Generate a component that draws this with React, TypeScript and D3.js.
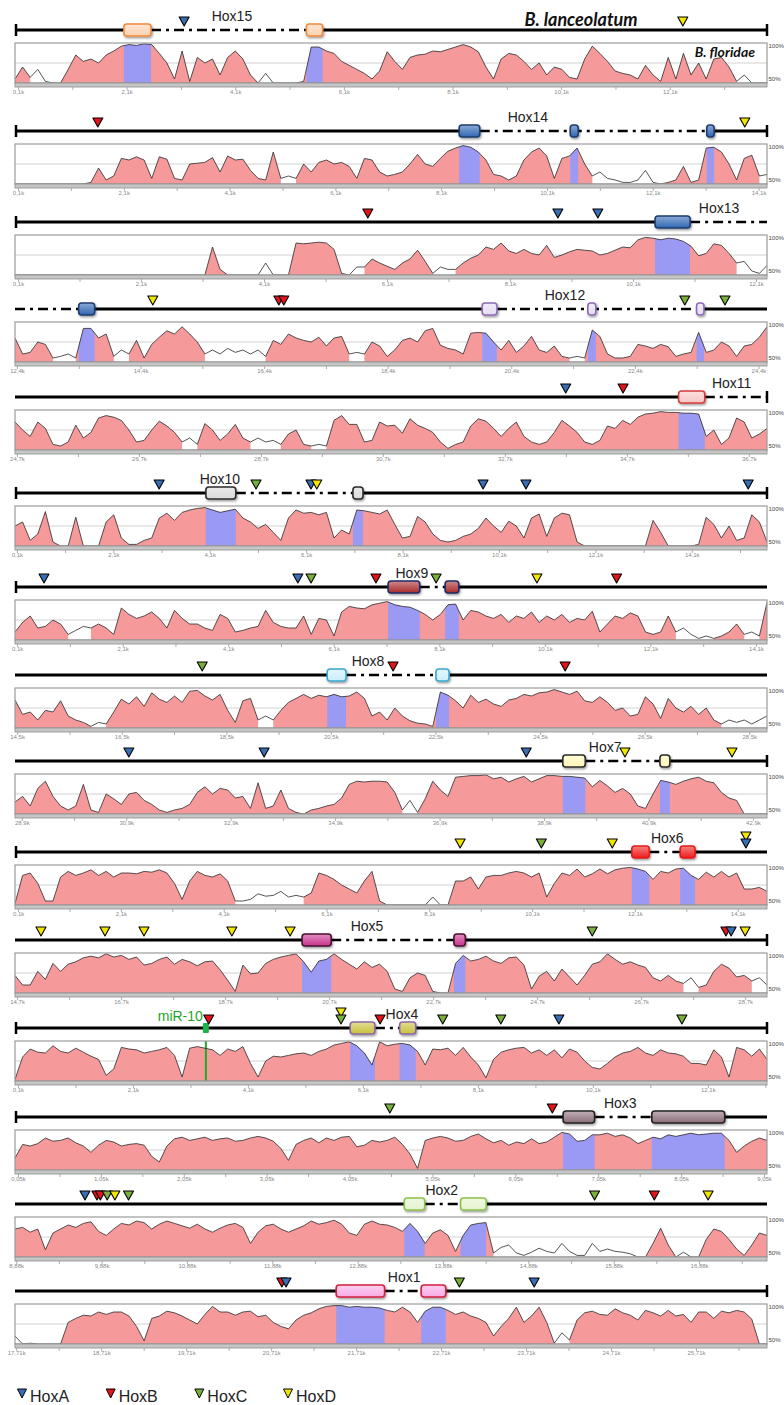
import React from "react";
import * as d3 from "d3";

// % identity profiles (B. lanceolatum vs B. floridae), 100 evenly spaced windows per panel
const cons15 = [55,70,57,67,52,50,50,67,85,77, 80,75,85,90,96,98,97,99,98,87, 75,55,90,52,82,75,80,60,82,90, 80,60,50,62,50,50,50,50,52,95, 95,90,87,77,72,67,62,55,65,89, 77,67,82,85,86,90,89,92,95,98, 95,89,70,55,80,87,85,77,67,75, 60,70,67,57,55,80,96,87,77,65, 62,60,55,72,60,52,82,55,87,60, 75,55,80,82,70,52,60,50,50,50];
const cons14 = [50,50,50,50,50,50,50,50,50,50, 52,70,55,60,82,80,84,80,57,84, 81,57,55,75,76,77,83,65,85,80, 81,67,57,55,90,57,60,57,75,65, 77,80,75,77,72,57,82,80,65,60, 62,65,75,87,75,72,82,91,95,98, 96,90,80,62,60,55,60,80,90,95, 85,57,82,85,95,75,60,65,57,55, 52,52,55,67,52,50,52,55,72,52, 55,95,96,90,75,55,82,86,60,62];
const cons13 = [50,50,50,50,50,50,50,50,50,50, 50,50,50,50,50,50,50,50,50,50, 50,50,50,50,50,50,85,57,50,50, 50,50,50,65,50,50,50,90,89,90, 91,90,82,52,50,60,60,70,65,61, 57,65,70,81,67,52,60,57,57,65, 71,75,85,82,90,80,77,82,77,75, 87,72,75,79,82,81,80,75,77,81, 85,84,94,97,96,94,96,95,92,86, 74,77,89,87,77,65,67,55,52,62];
const cons12 = [80,60,62,75,72,55,57,60,55,92, 92,80,85,57,65,60,77,55,72,81, 89,85,94,85,75,60,65,60,67,62, 65,60,65,57,77,72,85,80,77,75, 81,70,80,82,60,62,60,75,70,57, 65,77,80,75,89,92,71,67,65,60, 86,87,86,75,65,77,62,70,82,65, 62,70,57,55,57,55,90,82,60,55, 55,57,72,70,67,72,69,57,60,62, 87,62,65,75,70,57,70,72,81,94];
const cons11 = [85,75,67,85,77,57,55,60,81,65, 72,90,93,91,87,75,60,62,75,86, 80,72,60,65,57,83,75,62,70,82, 65,60,65,60,62,57,70,75,57,55, 57,55,87,93,82,82,60,62,85,80, 81,71,89,81,77,72,60,52,57,60, 80,89,86,77,67,77,85,67,60,57, 60,72,87,80,72,60,57,62,80,77, 87,82,91,95,96,98,97,97,96,96, 95,67,75,57,65,90,85,65,70,77];
const cons10 = [75,80,57,65,93,55,50,50,86,50, 50,50,80,89,60,52,52,57,60,85, 91,82,92,95,97,98,95,92,94,96, 85,80,72,77,67,57,85,95,91,92, 89,92,60,70,65,95,94,92,90,95, 77,60,62,87,80,65,57,55,57,62, 65,72,85,75,67,81,75,60,85,90, 62,85,91,89,55,50,50,50,50,50, 50,50,50,50,82,67,50,50,50,50, 52,86,77,60,75,57,60,89,80,55];
const cons9 = [60,72,80,65,67,75,70,57,62,67, 65,70,65,57,90,82,77,80,85,77, 65,87,77,70,70,65,62,82,77,60, 62,65,67,87,72,67,65,65,80,57, 77,75,55,85,92,90,89,94,96,98, 94,92,91,87,82,75,82,94,95,75, 87,85,80,77,82,72,80,77,85,72, 80,75,82,72,77,75,86,60,70,80, 77,84,80,60,57,60,80,60,65,57, 52,55,52,55,60,70,57,60,55,97];
const cons8 = [85,67,70,60,72,70,84,65,60,57, 52,57,55,70,86,80,89,77,94,86, 82,90,82,96,97,90,85,92,72,57, 84,87,60,65,60,72,82,87,92,87, 91,89,92,89,90,95,87,65,70,60, 75,65,59,56,55,52,95,91,84,75, 91,82,86,80,77,85,87,92,90,94, 95,98,95,92,96,84,82,89,82,72, 75,65,67,89,80,62,87,75,70,77, 67,75,60,55,60,57,60,55,60,65];
const cons7 = [65,72,60,82,91,72,60,55,60,87, 55,52,75,69,62,75,77,67,62,55, 52,55,57,62,77,84,75,82,80,70, 72,57,89,57,60,80,57,52,50,55, 57,60,62,70,87,91,90,91,91,90, 77,55,67,52,69,91,80,72,96,97, 98,98,99,94,96,90,94,97,90,94, 98,98,97,97,96,95,84,92,85,77, 82,75,60,57,75,92,90,87,91,94, 96,91,89,77,70,67,50,50,50,50];
const cons6 = [52,87,90,77,55,55,85,92,87,90, 94,87,92,85,90,90,89,92,91,94, 90,77,57,80,92,87,85,89,80,55, 55,57,64,61,62,67,60,62,60,65, 90,87,82,75,70,65,80,92,55,50, 50,50,50,50,50,60,50,50,80,80, 85,70,85,87,87,90,92,90,85,90, 60,77,90,87,95,85,89,95,89,94, 96,97,95,92,82,92,90,95,96,87, 82,91,85,92,85,90,70,70,72,67];
const cons5 = [72,60,60,77,67,87,77,86,89,94, 96,94,99,95,97,92,95,85,87,92, 95,86,92,89,84,89,90,79,66,52, 85,74,75,87,92,95,97,99,89,76, 90,92,99,92,86,80,89,82,86,77, 55,52,69,75,72,52,50,50,87,97, 90,92,96,90,87,94,95,85,55,71, 77,65,80,70,60,72,86,89,99,92, 86,89,85,82,69,65,72,65,62,69, 57,60,77,86,81,70,72,65,69,60];
const cons4 = [52,80,90,86,85,94,87,85,91,86, 81,77,57,65,92,90,89,85,87,89, 92,82,55,91,93,91,89,82,90,87, 93,72,55,75,81,80,82,84,85,82, 87,90,95,97,99,94,85,70,99,94, 96,97,95,87,70,90,89,91,82,92, 80,70,54,77,86,89,91,92,85,89, 82,89,79,90,86,75,67,65,72,80, 85,87,92,85,82,89,85,84,81,72, 72,70,89,80,55,92,89,81,90,77];
const cons3 = [65,82,80,83,90,86,87,90,84,80, 72,81,87,85,80,82,83,81,67,60, 80,89,91,87,89,91,87,89,90,86, 87,90,92,90,86,77,62,82,87,90, 84,90,87,91,92,79,81,87,85,87, 91,82,70,52,87,90,92,90,86,87, 92,95,89,84,87,81,85,83,89,83, 85,91,97,95,86,87,94,94,96,92, 94,90,83,87,91,89,94,92,94,96, 94,95,96,96,87,72,80,86,90,87];
const cons2 = [85,87,81,85,59,80,85,90,87,92, 94,82,77,85,92,90,95,93,85,91, 95,92,89,86,91,85,81,86,90,92, 87,67,81,89,91,85,81,85,89,95, 91,93,96,91,80,77,91,95,91,90, 87,82,92,82,67,80,84,77,57,77, 90,92,93,55,62,65,55,52,56,61, 57,55,67,57,52,52,67,57,60,57, 56,54,50,50,67,86,65,50,56,50, 50,72,85,82,72,60,52,65,80,77];
const cons1 = [60,50,51,50,50,50,50,77,82,86, 85,90,87,90,90,85,72,54,82,85, 91,89,85,80,75,87,97,90,90,86, 90,91,84,86,77,72,69,80,86,89, 94,97,98,98,96,97,96,96,95,92, 90,96,90,77,91,96,96,92,87,90, 85,82,77,60,72,82,96,77,85,96, 77,51,64,55,80,89,91,87,86,94, 89,86,80,92,89,85,92,85,87,77, 90,90,82,91,89,92,90,81,50,50];

const profiles = [cons15, cons14, cons13, cons12, cons11, cons10, cons9, cons8, cons7, cons6, cons5, cons4, cons3, cons2, cons1];

const geneNames = ["Hox15", "Hox14", "Hox13", "Hox12", "Hox11", "Hox10", "Hox9", "Hox8", "Hox7", "Hox6", "Hox5", "Hox4", "Hox3", "Hox2", "Hox1"];

// sequence window of each panel, kb
const spanFrom = [0.036, 0.034, 0.043, 12.36, 24.66, 0.05, 0.05, 14.45, 28.76, 0.03, 14.65, 0.04, 0.008, 8.86, 17.69];
const spanTo = [13.88, 14.25, 12.27, 24.53, 36.99, 15.65, 14.3, 28.83, 43.16, 14.66, 29.11, 13.12, 9.08, 17.67, 26.54];
const firstTick = [0.1, 0.1, 0.1, 12.4, 24.7, 0.1, 0.1, 14.5, 28.9, 0.1, 14.7, 0.1, 0.05, 8.88, 17.71];
const tickEvery = [2, 2, 2, 2, 2, 2, 2, 2, 2, 2, 2, 2, 1, 1, 1];
const labelAt = [4.03, 9.73, 11.49, 21.26, 36.41, 4.3, 7.57, 21.2, 40.06, 12.72, 21.42, 6.77, 7.31, 13.86, 22.27];

const exonSpans: [number, number, string][][] = [
  [[2.04, 2.54, "Hox15"], [5.4, 5.7, "Hox15"]],
  [[8.43, 8.82, "Hox14"], [10.53, 10.68, "Hox14"], [13.11, 13.25, "Hox14"]],
  [[10.45, 11.02, "Hox13"]],
  [[13.39, 13.65, "Hox13"], [19.92, 20.16, "Hox12"], [21.63, 21.76, "Hox12"], [23.39, 23.51, "Hox12"]],
  [[35.54, 35.97, "Hox11"]],
  [[4.01, 4.63, "Hox10"], [7.06, 7.27, "Hox10"]],
  [[7.12, 7.72, "Hox9"], [8.2, 8.46, "Hox9"]],
  [[20.42, 20.78, "Hox8"], [22.5, 22.75, "Hox8"]],
  [[39.25, 39.68, "Hox7"], [41.11, 41.3, "Hox7"]],
  [[12.03, 12.37, "Hox6"], [12.97, 13.26, "Hox6"]],
  [[20.17, 20.73, "Hox5"], [23.09, 23.31, "Hox5"]],
  [[5.87, 6.3, "Hox4"], [6.73, 7.01, "Hox4"]],
  [[6.62, 7.0, "Hox3"], [7.69, 8.57, "Hox3"]],
  [[13.42, 13.66, "Hox2"], [14.08, 14.38, "Hox2"]],
  [[21.47, 22.04, "Hox1"], [22.47, 22.76, "Hox1"]],
];

// intronic / unresolved stretches drawn dash-dot
const dashSpans: [number, number][][] = [
  [[2.54, 5.4]],
  [[8.82, 13.11]],
  [[11.02, 12.27]],
  [[12.36, 13.39], [20.16, 23.39]],
  [[35.97, 36.99]],
  [[4.63, 7.06]],
  [[7.72, 8.2]],
  [[20.78, 22.5]],
  [[39.68, 41.11]],
  [[12.37, 12.97]],
  [[20.73, 23.09]],
  [[6.3, 6.73]],
  [[7.0, 7.69]],
  [[13.66, 14.08]],
  [[22.04, 22.47]],
];

const endCaps = [[1, 1], [1, 1], [1, 0], [0, 0], [0, 1], [1, 1], [1, 0], [0, 0], [0, 1], [1, 0], [0, 1], [1, 1], [1, 0], [0, 0], [0, 1]];

// [position kb, family, stacked level]
const hoxMarks: [number, string, number][][] = [
  [[3.15, "A", 0], [12.33, "D", 0]],
  [[1.6, "B", 0], [13.83, "D", 0]],
  [[5.78, "B", 0], [8.87, "A", 0], [9.52, "A", 0]],
  [[14.59, "D", 0], [16.63, "B", 0], [16.71, "B", 0], [23.2, "C", 0], [23.85, "C", 0]],
  [[33.69, "A", 0], [34.63, "B", 0]],
  [[3.04, "A", 0], [5.05, "C", 0], [6.19, "A", 0], [6.31, "D", 0], [9.76, "A", 0], [10.65, "A", 0], [15.26, "A", 0]],
  [[0.6, "A", 0], [5.41, "A", 0], [5.66, "C", 0], [6.89, "B", 0], [8.03, "C", 0], [9.94, "D", 0], [11.45, "B", 0]],
  [[18.03, "C", 0], [21.68, "B", 0], [24.97, "B", 0]],
  [[30.94, "A", 0], [33.53, "A", 0], [38.55, "A", 0], [40.44, "D", 0], [42.49, "D", 0]],
  [[8.69, "D", 0], [10.27, "C", 0], [11.65, "D", 0], [14.25, "D", 1], [14.25, "A", 0]],
  [[15.15, "D", 0], [16.38, "D", 0], [17.13, "D", 0], [18.82, "D", 0], [19.94, "D", 0], [25.75, "C", 0], [28.32, "B", 0], [28.42, "A", 0], [28.69, "D", 0]],
  [[3.41, "B", 0], [5.71, "D", 1], [5.71, "C", 0], [6.39, "B", 0], [7.48, "C", 0], [8.49, "C", 0], [9.5, "A", 0], [11.64, "C", 0]],
  [[4.53, "C", 0], [6.49, "B", 0]],
  [[9.68, "A", 0], [9.82, "B", 0], [9.86, "B", 0], [9.94, "C", 0], [10.03, "D", 0], [10.19, "C", 0], [15.65, "C", 0], [16.35, "B", 0], [16.98, "D", 0]],
  [[20.83, "B", 0], [20.88, "A", 0], [22.92, "C", 0], [23.8, "A", 0]],
];

const mirPanel = 11;
const mirAt = 3.36;
const mirName = "miR-10";

const legendFamilies = ["A", "B", "C", "D"];

// layout
const rowLine = [30, 131, 222, 309, 397, 493, 587, 675, 761, 852, 940, 1028, 1117, 1204, 1291];
const PLOT_L = 15;
const PLOT_R = 767;
const CORE = 70;

const familyColor: Record<string, string> = { A: "#3a6db2", B: "#e3141b", C: "#79b03b", D: "#f2e500" };
const exonFill: Record<string, string> = {
  Hox15: "#fcd2b0", Hox14: "#2f66b2", Hox13: "#2f66b2", Hox12: "#e6dcf2", Hox11: "#f7c6c6",
  Hox10: "#d9d9d9", Hox9: "#a82a2a", Hox8: "#cbeefb", Hox7: "#fdf6b6", Hox6: "#ee1b1b",
  Hox5: "#c9328c", Hox4: "#c9c13a", Hox3: "#8c6d7b", Hox2: "#e4f3cc", Hox1: "#f8a9e4",
};
const exonEdge: Record<string, string> = {
  Hox15: "#f0893c", Hox14: "#1c3c6e", Hox13: "#1c3c6e", Hox12: "#8d6bb8", Hox11: "#d43c3c",
  Hox10: "#2b2b2b", Hox9: "#1d2b68", Hox8: "#3ba7d0", Hox7: "#2b2b2b", Hox6: "#e41a1a",
  Hox5: "#4a1232", Hox4: "#8a68a8", Hox3: "#222222", Hox2: "#8cc14e", Hox1: "#d1213e",
};

const SANS = "'Liberation Sans', Arial, sans-serif";

// peaks >= CORE are shaded, extended down both slopes to the next valley
function conservedMask(vals: number[]) {
  const out = vals.map((v) => v >= CORE);
  vals.forEach((v, i) => {
    if (v < CORE) return;
    let k = i - 1;
    while (k >= 0 && vals[k] < vals[k + 1]) { out[k] = true; k--; }
    k = i + 1;
    while (k < vals.length && vals[k] < vals[k - 1]) { out[k] = true; k++; }
  });
  return out;
}

function tri(cx: number, tipY: number, w = 10, h = 9) {
  return `M${cx - w / 2},${tipY - h} L${cx + w / 2},${tipY - h} L${cx},${tipY} Z`;
}

function Panel({ p }: { p: number }) {
  const L = rowLine[p];
  const vals = profiles[p];
  const x = d3.scaleLinear().domain([spanFrom[p], spanTo[p]]).range([PLOT_L, PLOT_R]);
  const xi = d3.scaleLinear().domain([0, vals.length - 1]).range([PLOT_L, PLOT_R]);
  const top = L + 13;
  const bot = L + 53;
  const y = d3.scaleLinear().domain([50, 100]).range([bot, top]).clamp(true);

  const mask = conservedMask(vals);
  const pink = d3.area<number>().defined((_, i) => mask[i]).x((_, i) => xi(i)).y0(bot).y1((d) => y(d));
  const full = d3.area<number>().x((_, i) => xi(i)).y0(bot).y1((d) => y(d));
  const line = d3.line<number>().x((_, i) => xi(i)).y((d) => y(d));

  const step = tickEvery[p];
  const digits = step < 2 ? 2 : 1;
  const majors = d3.range(firstTick[p], spanTo[p] + 1e-6, step);
  const minors = d3.range(firstTick[p] - step / 2, spanTo[p], step / 2).filter((t) => t >= spanFrom[p]);
  const fmt = (t: number) => t.toFixed(digits).replace(".", ",") + "k";

  // solid stretches = complement of dash spans
  const dashes = dashSpans[p];
  const solids: [number, number][] = [];
  let cur = spanFrom[p];
  dashes.forEach(([a, b]) => { if (a > cur) solids.push([cur, a]); cur = Math.max(cur, b); });
  if (cur < spanTo[p]) solids.push([cur, spanTo[p]]);

  const clipId = `exclip${p}`;
  const boxId = `boxclip${p}`;

  return (
    <g>
      <defs>
        <clipPath id={clipId}>
          {exonSpans[p].map(([a, b], i) => (
            <rect key={i} x={x(a)} y={top - 2} width={x(b) - x(a)} height={bot - top + 4} />
          ))}
        </clipPath>
        <clipPath id={boxId}>
          <rect x={PLOT_L} y={top - 1} width={PLOT_R - PLOT_L} height={bot - top + 1} />
        </clipPath>
      </defs>

      {/* gene track */}
      {solids.map(([a, b], i) => (
        <line key={"s" + i} x1={x(a)} x2={x(b)} y1={L} y2={L} stroke="#000" strokeWidth={3} />
      ))}
      {dashes.map(([a, b], i) => (
        <line key={"d" + i} x1={x(a)} x2={x(b)} y1={L} y2={L} stroke="#000" strokeWidth={2.4} strokeDasharray="10,5,3,5" />
      ))}
      {endCaps[p][0] ? <line x1={PLOT_L + 1} x2={PLOT_L + 1} y1={L - 6} y2={L + 6} stroke="#000" strokeWidth={2.5} /> : null}
      {endCaps[p][1] ? <line x1={PLOT_R} x2={PLOT_R} y1={L - 6} y2={L + 6} stroke="#000" strokeWidth={2.5} /> : null}
      {exonSpans[p].map(([a, b, g], i) => (
        <rect key={"e" + i} x={x(a)} y={L - 6} width={Math.max(6, x(b) - x(a))} height={12} rx={3}
          fill={`url(#grad-${g})`} stroke={exonEdge[g]} strokeWidth={1.6} filter="url(#shadow)" />
      ))}
      {p === mirPanel ? (
        <g>
          <rect x={x(mirAt) - 3} y={L - 5} width={6} height={10} rx={1} fill="#1db24a" />
          <text x={x(mirAt) - 3} y={L - 7} textAnchor="end" fontFamily={SANS} fontSize={14} fill="#1fa32a">{mirName}</text>
        </g>
      ) : null}
      {hoxMarks[p].map(([pos, fam, lvl], i) => (
        <path key={"m" + i} d={tri(x(pos), L - 4 - lvl * 7)} fill={familyColor[fam]} stroke="#000" strokeWidth={1.1} strokeLinejoin="round" />
      ))}
      <text x={x(labelAt[p])} y={L - 9} textAnchor="middle" fontFamily={SANS} fontSize={14} fill="#222">{geneNames[p]}</text>

      {/* conservation plot */}
      <rect x={PLOT_L} y={top} width={PLOT_R - PLOT_L} height={bot - top} fill="#fff" />
      <line x1={PLOT_L} x2={PLOT_R} y1={y(75)} y2={y(75)} stroke="#d2d2d2" strokeWidth={1} />
      <g clipPath={`url(#${boxId})`}>
        <path d={pink(vals) ?? ""} fill="#f5999b" />
        <path d={full(vals) ?? ""} fill="#9a9af5" clipPath={`url(#${clipId})`} />
        {p === mirPanel ? <line x1={x(mirAt)} x2={x(mirAt)} y1={top} y2={bot} stroke="#22a82a" strokeWidth={2} /> : null}
        <path d={line(vals) ?? ""} fill="none" stroke="#2a2a2a" strokeWidth={0.8} strokeLinejoin="round" />
      </g>
      <rect x={PLOT_L} y={top} width={PLOT_R - PLOT_L} height={bot - top} fill="none" stroke="#9c9c9c" strokeWidth={1.2} />
      <rect x={PLOT_L} y={bot} width={PLOT_R - PLOT_L} height={4} fill="#c6c6c6" stroke="#8c8c8c" strokeWidth={0.8} />
      <text x={768.5} y={top + 5} fontFamily={SANS} fontSize={6} fill="#444">100%</text>
      <text x={768.5} y={bot - 2} fontFamily={SANS} fontSize={6} fill="#444">50%</text>

      {minors.map((t, i) => (
        <line key={"n" + i} x1={x(t)} x2={x(t)} y1={bot + 4} y2={bot + 7} stroke="#9a9a9a" strokeWidth={0.8} />
      ))}
      {majors.map((t, i) => (
        <text key={"t" + i} x={x(t)} y={bot + 11} textAnchor="middle" fontFamily={SANS} fontSize={6} fill="#8a8a8a">{fmt(t)}</text>
      ))}
    </g>
  );
}

export default function App() {
  const legendX = d3.scalePoint<string>().domain(legendFamilies).range([22, 288]);
  const genes = Object.keys(exonFill);
  return (
    <svg width={784} height={1405} style={{ position: "absolute", left: 0, top: 0, background: "#fff" }}>
      <defs>
        <filter id="shadow" x="-30%" y="-30%" width="160%" height="180%">
          <feDropShadow dx={1} dy={1.5} stdDeviation={1} floodColor="#000" floodOpacity={0.4} />
        </filter>
        {genes.map((g) => (
          <linearGradient key={g} id={`grad-${g}`} x1="0" y1="0" x2="0" y2="1">
            <stop offset="0%" stopColor={d3.interpolateRgb(exonFill[g], "#ffffff")(0.45)} />
            <stop offset="100%" stopColor={exonFill[g]} />
          </linearGradient>
        ))}
      </defs>
      <rect x={0} y={0} width={784} height={1405} fill="#fff" />
      {profiles.map((_, p) => <Panel key={p} p={p} />)}

      <text x={581} y={26} textAnchor="middle" fontFamily="Lato, 'Open Sans', sans-serif" fontWeight="bold" fontStyle="italic" fontSize={18} fill="#111">B. lanceolatum</text>
      <text x={755} y={57} textAnchor="end" fontFamily="Lato, 'Open Sans', sans-serif" fontWeight="bold" fontStyle="italic" fontSize={14} fill="#111">B. floridae</text>

      {legendFamilies.map((f) => (
        <g key={f}>
          <path d={tri(legendX(f)!, 1398, 9, 9)} fill={familyColor[f]} stroke="#000" strokeWidth={1} />
          <text x={legendX(f)! + 8} y={1402} fontFamily={SANS} fontSize={16} fill="#222">{"Hox" + f}</text>
        </g>
      ))}
    </svg>
  );
}
